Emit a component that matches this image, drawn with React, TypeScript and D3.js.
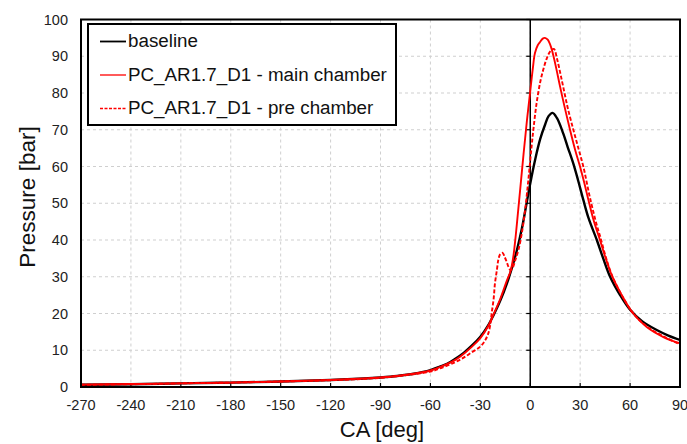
import React from "react";
import * as d3 from "d3";

const xTicks = [-270, -240, -210, -180, -150, -120, -90, -60, -30, 0, 30, 60, 90];
const yTicks = [0, 10, 20, 30, 40, 50, 60, 70, 80, 90, 100];

const baselineCA = [-270, -240, -210, -180, -150, -120, -100, -90, -80, -70, -60, -54, -50, -45, -40, -35, -30, -25, -22, -18, -14, -10, -8, -5, -2, 0, 3, 6, 9, 11, 13.4, 16, 19.8, 22.5, 25.8, 28.9, 31.9, 35, 40, 44, 48, 54, 60, 67, 76, 83, 90];
const baselineP = [0.6, 0.75, 1.0, 1.2, 1.5, 1.9, 2.3, 2.6, 3.0, 3.6, 4.6, 5.6, 6.3, 7.7, 9.3, 11.3, 13.7, 17, 19.6, 23.5, 28.2, 34, 37.3, 43.2, 50.5, 55.4, 62, 67.5, 71.5, 73.7, 74.6, 73.2, 69, 65.3, 60.9, 56, 50.9, 46, 40, 34.8, 30, 25, 21, 18, 15.5, 14, 12.8];

const mainCA = [-270, -240, -210, -180, -150, -120, -100, -90, -80, -70, -60, -54, -45, -42, -35, -30, -25, -22, -18, -14, -12, -11, -10, -9, -8, -6, -4, -2, 0, 1.5, 2.8, 4.5, 5.8, 7.5, 8.8, 10.5, 12.5, 15, 17.8, 20.5, 23.9, 27, 29.9, 32.5, 34.9, 38, 41.9, 45, 48.9, 55, 61.9, 70, 80, 90];
const mainP = [0.65, 0.8, 1.0, 1.2, 1.5, 1.9, 2.3, 2.6, 3.0, 3.6, 4.5, 5.5, 7.4, 8.3, 11, 13.3, 16.8, 19.8, 24, 29, 31.3, 33.2, 36, 40, 44.5, 54, 63.5, 72.5, 80.5, 86.5, 90.8, 93, 93.8, 94.8, 95, 94.5, 92.5, 88, 82, 76.5, 70, 64.5, 60, 55.5, 51, 45.5, 40, 35.5, 30.5, 25, 20, 16.3, 13.6, 11.9];

const preCA = [-270, -240, -210, -180, -150, -120, -90, -60, -54, -45, -40, -35, -30, -27, -25.2, -24, -23.2, -22, -21.2, -20, -19.2, -18, -16.6, -15.5, -14.2, -13, -11.8, -10.5, -9, -7, -5, -3, -1, 0.8, 2, 3.8, 6, 7.8, 10, 12, 14.2, 16, 18, 19.8, 22.5, 25.9, 28.9, 31.9, 35.9, 40, 42, 45, 49, 55, 62, 70, 80, 90];
const preP = [0.6, 0.75, 1.0, 1.2, 1.5, 1.85, 2.5, 4.2, 5.1, 6.8, 8, 9.5, 11.0, 12.8, 14.6, 17, 20, 24, 28.2, 32, 34.6, 36.2, 36.5, 35.5, 34.1, 32.6, 31.8, 32.5, 34.5, 37.5, 42, 48.5, 57, 65.4, 70.5, 77.2, 83, 86.3, 89.5, 91.3, 92, 89.5, 85.5, 81.7, 76, 70, 65, 60, 51.5, 44, 41, 36, 30.5, 25, 20, 16.5, 13.8, 11.6];

const legendLabels = ["baseline", "PC_AR1.7_D1 - main chamber", "PC_AR1.7_D1 - pre chamber"];

const W = 687;
const H = 444;
const left = 81;
const right = 680;
const top = 19.5;
const bottom = 387;

export default function App() {
  const x = d3.scaleLinear().domain([-270, 90]).range([left, right]);
  const y = d3.scaleLinear().domain([0, 100]).range([bottom, top]);
  const line = d3
    .line<[number, number]>()
    .x((d) => x(d[0]))
    .y((d) => y(d[1]))
    .curve(d3.curveCatmullRom.alpha(0.5));
  const zip = (a: number[], b: number[]) => a.map((v, i) => [v, b[i]] as [number, number]);
  const font = "'Liberation Sans', Arial, sans-serif";
  const series = [
    { d: line(zip(baselineCA, baselineP)), color: "#000", w: 2.4, dash: undefined as string | undefined },
    { d: line(zip(mainCA, mainP)), color: "#ff0000", w: 1.9, dash: undefined },
    { d: line(zip(preCA, preP)), color: "#ff0000", w: 1.9, dash: "4,2" },
  ];
  const legendRows = [
    { color: "#000", w: 1.8, dash: undefined as string | undefined },
    { color: "#ff0000", w: 1.3, dash: undefined },
    { color: "#ff0000", w: 1.3, dash: "3,1.5" },
  ];
  return (
    <div style={{ position: "absolute", left: 0, top: 0 }}>
      <svg width={W} height={H} style={{ display: "block", background: "#fff" }}>
        <rect x={0} y={0} width={W} height={H} fill="#fff" />
        <defs>
          <clipPath id="plotclip">
            <rect x={left} y={top} width={right - left} height={bottom - top} />
          </clipPath>
        </defs>
        {xTicks.slice(1, -1).map((t) => (
          <line key={"gx" + t} x1={x(t)} x2={x(t)} y1={top} y2={bottom} stroke="#cfcfcf" strokeWidth={1} strokeDasharray="3,3" />
        ))}
        {yTicks.slice(1, -1).map((t) => (
          <line key={"gy" + t} x1={left} x2={right} y1={y(t)} y2={y(t)} stroke="#cfcfcf" strokeWidth={1} strokeDasharray="3,3" />
        ))}
        <line x1={x(0)} x2={x(0)} y1={top} y2={bottom} stroke="#000" strokeWidth={1.5} />
        {yTicks.map((t) => (
          <line key={"ty" + t} x1={x(0) - 4} x2={x(0)} y1={y(t)} y2={y(t)} stroke="#000" strokeWidth={1.2} />
        ))}
        {xTicks.map((t) => (
          <line key={"tx" + t} x1={x(t)} x2={x(t)} y1={bottom} y2={bottom - 4} stroke="#000" strokeWidth={1.2} />
        ))}
        <g clipPath="url(#plotclip)">
          {series.map((s, i) => (
            <path key={i} d={s.d || ""} fill="none" stroke={s.color} strokeWidth={s.w} strokeDasharray={s.dash} strokeLinejoin="round" />
          ))}
        </g>
        <rect x={left} y={top} width={right - left} height={bottom - top} fill="none" stroke="#000" strokeWidth={2} />
        {xTicks.map((t) => (
          <text key={"lx" + t} x={x(t)} y={410} textAnchor="middle" fontFamily={font} fontSize={14.5} fill="#222">
            {t}
          </text>
        ))}
        {yTicks.map((t) => (
          <text key={"ly" + t} x={68} y={y(t) + 5} textAnchor="end" fontFamily={font} fontSize={14.5} fill="#222">
            {t}
          </text>
        ))}
        <text x={382} y={437} textAnchor="middle" fontFamily={font} fontSize={22} fill="#111">
          CA [deg]
        </text>
        <text transform={`translate(35,197) rotate(-90)`} textAnchor="middle" fontFamily={font} fontSize={22.5} fill="#111">
          Pressure [bar]
        </text>
        <rect x={88} y={24} width={308} height={101} fill="#fff" stroke="#000" strokeWidth={2} />
        {legendLabels.map((lab, i) => {
          const by = 47 + i * 33.5;
          const r = legendRows[i];
          return (
            <g key={lab}>
              <line x1={100} x2={126} y1={by - 5.5} y2={by - 5.5} stroke={r.color} strokeWidth={r.w} strokeDasharray={r.dash} />
              <text x={128} y={by} fontFamily={font} fontSize={18.8} fill="#111">
                {lab}
              </text>
            </g>
          );
        })}
      </svg>
    </div>
  );
}
